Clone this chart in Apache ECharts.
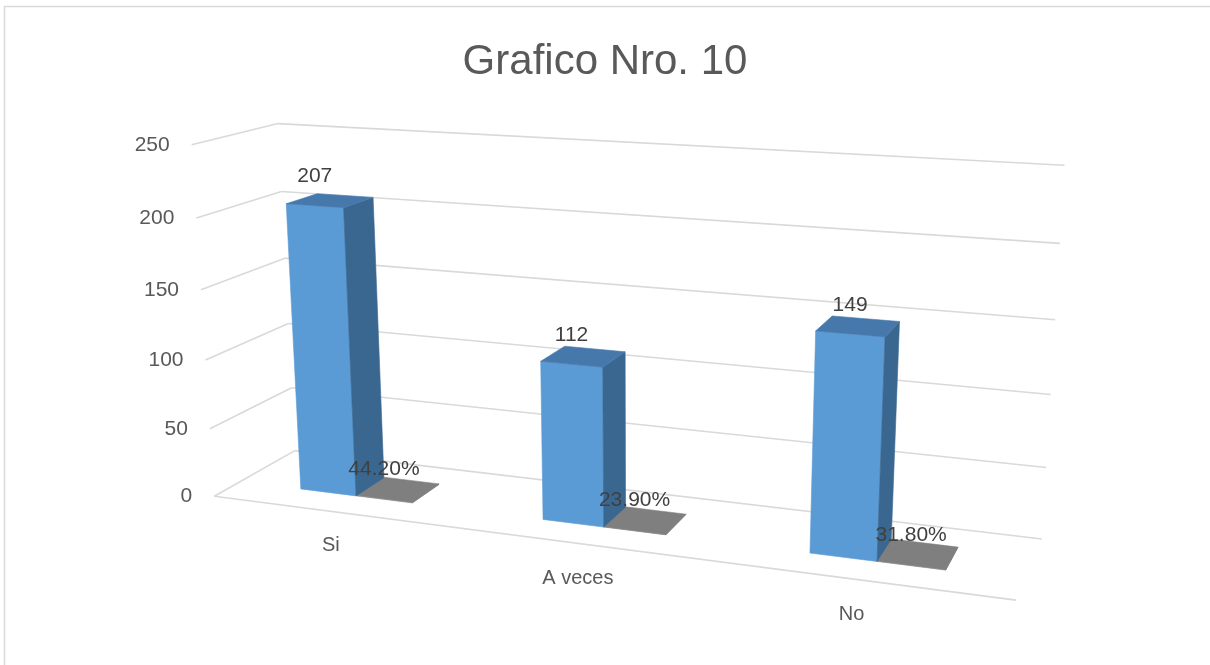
<!DOCTYPE html>
<html>
<head>
<meta charset="utf-8">
<title>Grafico Nro. 10</title>
<script src="https://cdn.jsdelivr.net/npm/echarts@6/dist/echarts.min.js"></script>
<style>
  html, body { margin: 0; padding: 0; background: #ffffff; }
  #chart { width: 1210px; height: 665px; }
</style>
</head>
<body>
<div id="chart"></div>
<script>
// ---- data ----
const categories = ['Si', 'A veces', 'No'];
const counts = [207, 112, 149];
const shares = [0.442, 0.239, 0.318];
const valueTicks = [0, 50, 100, 150, 200, 250];

// ---- 3D scene ----
// Box units: X = along categories (0..1), Y = value axis (0..1), Z = depth (0 front, 1 back).
// Each anchor pins a box corner / wall tick to its pixel position: [X, Y, Z, px, py].
const boxAnchors = [
  [0, 0,   0, 214,   496],
  [1, 0,   0, 1016,  600],
  [1, 0,   1, 1042,  539],
  [0, 1,   0, 191.7, 144.3],
  [0, 1,   1, 276.7, 124],
  [1, 1,   1, 1064.3, 165],
  [0, 0.8, 0, 196.7, 218.3],
  [0, 0.8, 1, 282.7, 191],
  [1, 0.8, 1, 1060,  243.3],
  [1, 0.6, 1, 1055.3, 320],
  [1, 0.4, 1, 1050.7, 395],
  [1, 0.2, 1, 1046,  467.3],
  [0, 0.6, 0, 201,   290],
  [0, 0.4, 0, 205.7, 360],
  [0, 0.2, 0, 209.7, 429]
];

// Least-squares fit of a 3x4 perspective camera matrix (last entry fixed to 1).
function solveCamera(anchors) {
  const n = 11;
  const M = Array.from({ length: n }, () => new Array(n).fill(0));
  const r = new Array(n).fill(0);
  const addRow = (row, b) => {
    for (let i = 0; i < n; i++) {
      for (let j = 0; j < n; j++) M[i][j] += row[i] * row[j];
      r[i] += row[i] * b;
    }
  };
  anchors.forEach(([X, Y, Z, u, v]) => {
    addRow([X, Y, Z, 1, 0, 0, 0, 0, -u * X, -u * Y, -u * Z], u);
    addRow([0, 0, 0, 0, X, Y, Z, 1, -v * X, -v * Y, -v * Z], v);
  });
  for (let c = 0; c < n; c++) {
    let p = c;
    for (let k = c + 1; k < n; k++) if (Math.abs(M[k][c]) > Math.abs(M[p][c])) p = k;
    [M[c], M[p]] = [M[p], M[c]];
    [r[c], r[p]] = [r[p], r[c]];
    for (let k = c + 1; k < n; k++) {
      const f = M[k][c] / M[c][c];
      for (let j = c; j < n; j++) M[k][j] -= f * M[c][j];
      r[k] -= f * r[c];
    }
  }
  const p = new Array(n).fill(0);
  for (let i = n - 1; i >= 0; i--) {
    let s = r[i];
    for (let j = i + 1; j < n; j++) s -= M[i][j] * p[j];
    p[i] = s / M[i][i];
  }
  return p;
}

const CAM = solveCamera(boxAnchors);
function project(X, Y, Z) {
  const w = CAM[8] * X + CAM[9] * Y + CAM[10] * Z + 1;
  return [
    (CAM[0] * X + CAM[1] * Y + CAM[2] * Z + CAM[3]) / w,
    (CAM[4] * X + CAM[5] * Y + CAM[6] * Z + CAM[7]) / w
  ];
}

// Bar geometry inside each category slot (fractions of the slot / of the depth).
const BAR_SHARE = 0.236;
const DEPTH_FRONT = 0.31;
const DEPTH_BACK = 0.69;

const FONT = '"Liberation Sans", Arial, sans-serif';
const GRID_COLOR = '#d9d9d9';

// Map a (category, value) pair through the hidden cartesian axes into box units.
function toBox(api, params, catIndex, value) {
  const cs = params.coordSys;
  const pt = api.coord([catIndex, value]);
  return {
    X: (pt[0] - cs.x) / cs.width,
    Y: (cs.y + cs.height - pt[1]) / cs.height,
    band: api.size([1, 0])[0] / cs.width
  };
}

function face(pts, fill) {
  return {
    type: 'polygon',
    shape: { points: pts.map(p => project(p[0], p[1], p[2])) },
    style: { fill: fill, stroke: fill, lineWidth: 0.6 }
  };
}

function box(x0, x1, h, colors) {
  const z0 = DEPTH_FRONT, z1 = DEPTH_BACK;
  return [
    face([[x0, 0, z0], [x1, 0, z0], [x1, h, z0], [x0, h, z0]], colors.front),
    face([[x1, 0, z0], [x1, 0, z1], [x1, h, z1], [x1, h, z0]], colors.side),
    face([[x0, h, z0], [x1, h, z0], [x1, h, z1], [x0, h, z1]], colors.top)
  ];
}

function label(x, y, text, color, size, align) {
  return {
    type: 'text',
    x: x, y: y,
    style: {
      text: text, fill: color,
      fontSize: size, fontFamily: FONT,
      align: align || 'center', verticalAlign: 'middle',
      textAlign: align || 'center', textVerticalAlign: 'middle'
    }
  };
}

// Walls: back-wall and side-wall gridlines with value tick labels.
function renderWalls(params, api) {
  const v = api.value(1);
  const b = toBox(api, params, 0, v);
  const Y = b.Y;
  const children = [];
  const line = (a, c) => ({
    type: 'line',
    shape: { x1: a[0], y1: a[1], x2: c[0], y2: c[1] },
    style: { stroke: GRID_COLOR, lineWidth: 1.6 }
  });
  children.push(line(project(0, Y, 1), project(1, Y, 1)));
  children.push(line(project(0, Y, 0), project(0, Y, 1)));
  if (v === 0) children.push(line(project(0, 0, 0), project(1, 0, 0)));
  const a = project(0, Y, 0);
  children.push(label(a[0] - 22, a[1], String(v), '#595959', 21, 'right'));
  return { type: 'group', children: children };
}

const BLUE = { front: '#5b9bd5', side: '#3a6790', top: '#4778ac' };
const GRAY = { front: '#a5a5a5', side: '#6e6e6e', top: '#7f7f7f' };

function renderCounts(params, api) {
  const i = api.value(0);
  const b = toBox(api, params, i, api.value(1));
  const w = b.band * BAR_SHARE;
  const xc = (i + 0.5) * b.band;
  const x0 = xc - w, x1 = xc;
  const children = box(x0, x1, b.Y, BLUE);
  const top = project((x0 + x1) / 2, b.Y, DEPTH_FRONT);
  children.push(label(top[0], top[1] - 29, String(api.value(1)), '#404040', 21));
  // category name sits below the front floor edge, drifting left towards the near side
  const base = project(xc, 0, 0);
  children.push(label(base[0] + 2 - 18 * xc, base[1] + 34, categories[i], '#595959', 20));
  return { type: 'group', children: children };
}

function renderShares(params, api) {
  const i = api.value(0);
  const b = toBox(api, params, i, api.value(1));
  const w = b.band * BAR_SHARE;
  const xc = (i + 0.5) * b.band;
  return { type: 'group', children: box(xc, xc + w, b.Y, GRAY) };
}

function renderShareLabels(params, api) {
  const i = api.value(0);
  const v = api.value(1);
  const b = toBox(api, params, i, v);
  const w = b.band * BAR_SHARE;
  const xc = (i + 0.5) * b.band;
  const top = project(xc + w / 2, b.Y, DEPTH_FRONT);
  return label(top[0], top[1] - 30, (v * 100).toFixed(2) + '%', '#404040', 21);
}

const chart = echarts.init(document.getElementById('chart'), null, { renderer: 'canvas' });
chart.setOption({
  animation: false,
  backgroundColor: '#ffffff',
  title: {
    text: 'Grafico Nro. 10',
    left: 'center',
    top: 36,
    textStyle: { fontSize: 42, fontWeight: 'normal', color: '#595959', fontFamily: FONT }
  },
  graphic: [{
    type: 'rect',
    shape: { x: 4.5, y: 6.5, width: 1300, height: 800 },
    style: { fill: 'none', stroke: '#d9d9d9', lineWidth: 1.5 },
    silent: true, z: -10
  }],
  grid: { left: 0, right: 0, top: 0, bottom: 0 },
  xAxis: { type: 'category', data: categories, show: false },
  yAxis: { type: 'value', min: 0, max: 250, interval: 50, show: false },
  series: [
    {
      type: 'custom', name: 'walls', z: 1, silent: true,
      renderItem: renderWalls,
      data: valueTicks.map(v => [0, v])
    },
    {
      type: 'custom', name: 'Porcentaje', z: 2, silent: true,
      renderItem: renderShares,
      data: shares.map((v, i) => [i, v])
    },
    {
      type: 'custom', name: 'Cantidad', z: 3, silent: true,
      renderItem: renderCounts,
      data: counts.map((v, i) => [i, v])
    },
    {
      type: 'custom', name: 'Porcentaje etiquetas', z: 4, silent: true,
      renderItem: renderShareLabels,
      data: shares.map((v, i) => [i, v])
    }
  ]
});
</script>
</body>
</html>
